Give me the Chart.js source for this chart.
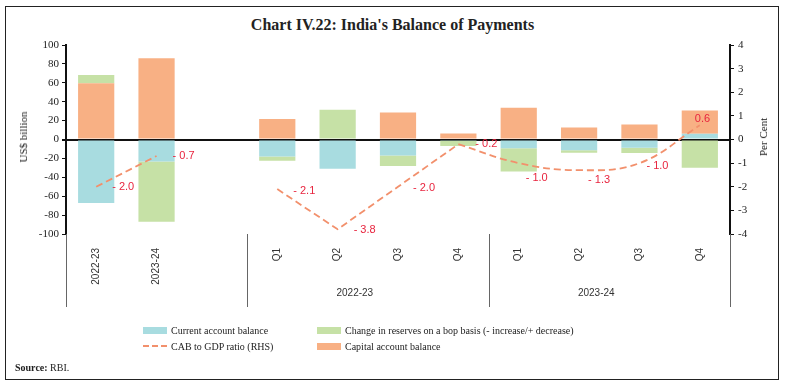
<!DOCTYPE html>
<html>
<head>
<meta charset="utf-8">
<title>India's Balance of Payments</title>
<script src="https://cdn.jsdelivr.net/npm/chart.js@4.4.1/dist/chart.umd.min.js"></script>
<style>
    body { margin: 0; background: #fff; }
    #wrap {
        position: relative; width: 785px; height: 387px;
        font-family: 'Liberation Serif', 'DejaVu Serif', serif; color: #222;
    }
    #frame {
        position: absolute; left: 5px; top: 6px; width: 772px; height: 372px;
        border: 1.5px solid #222;
    }
    #title {
        position: absolute; left: 0; top: 16px; width: 785px;
        text-align: center; font-size: 16px; font-weight: bold;
    }
    canvas { position: absolute; left: 0; top: 0; }
    .axis-title {
        position: absolute; font-size: 11px; white-space: nowrap;
        transform: translate(-50%, -50%) rotate(-90deg);
    }
    #legend {
        position: absolute; left: 143px; top: 323px;
        display: grid; grid-template-columns: 174px auto; row-gap: 2px;
        font-size: 10px;
    }
    .item { display: flex; align-items: center; height: 14px; }
    .swatch { width: 24px; height: 7px; margin-right: 4px; }
    #source { position: absolute; left: 15px; top: 362px; font-size: 10px; }
</style>
</head>
<body>
<div id="wrap">
    <div id="frame"></div>
    <div id="title">Chart IV.22: India's Balance of Payments</div>
    <canvas id="bopChart" width="785" height="387"></canvas>
    <div class="axis-title" style="left:23px; top:137px;">US$ billion</div>
    <div class="axis-title" style="left:763px; top:137px;">Per Cent</div>
    <div id="legend"></div>
    <div id="source"><b>Source:</b> RBI.</div>
</div>

<script>
/* ======================================================
   DATA (US$ billion, ratio in per cent)
====================================================== */
const categories = ['2022-23', '2023-24', '', 'Q1', 'Q2', 'Q3', 'Q4', 'Q1', 'Q2', 'Q3', 'Q4'];
const currentAccount = [-67.1, -23.2, null, -18.0, -31.0, -17.0, -1.3, -9.2, -11.3, -8.7, 6.0];
const capitalAccount = [59.4, 85.9, null, 21.6, 0, 28.6, 6.4, 33.6, 12.7, 15.9, 24.8];
const reserveChange = [8.8, -63.9, null, -4.6, 31.4, -11.0, -5.6, -24.6, -2.8, -5.5, -30.0];
const cabToGdp = [-2.0, -0.7, null, -2.1, -3.8, -2.0, -0.2, -1.0, -1.3, -1.0, 0.6];

const periodGroups = [
    { label: '2022-23', first: 3, last: 6 },
    { label: '2023-24', first: 7, last: 10 }
];

const COLORS = {
    cab: '#a8dce0',
    reserves: '#c6e1a6',
    capital: '#f8b084',
    ratio: '#f2906c',
    label: '#e8243e'
};

// the 2023-24 quarters are drawn smoothed, the rest straight
const CURVE_FROM = 6;
const ratioStraight = cabToGdp.map((v, i) => i <= CURVE_FROM ? v : null);
const ratioCurved = cabToGdp.map((v, i) => i >= CURVE_FROM ? v : null);

// label nudges (dx, dy) relative to each ratio point
const labelNudge = [[16, 0], [16, 0], null, [16, 2], [16, 1], [15, 1], [17, 0], [7, 15], [9, 10], [7, 3], [-5, -6]];

/* ======================================================
   PLUGINS
====================================================== */
const ratioLabels = {
    id: 'ratioLabels',
    afterDatasetsDraw(chart) {
        const { ctx, scales: { x, y1 } } = chart;
        ctx.save();
        ctx.font = '11px "Liberation Sans", sans-serif';
        ctx.fillStyle = COLORS.label;
        ctx.textAlign = 'left';
        ctx.textBaseline = 'middle';
        cabToGdp.forEach((v, i) => {
            if (v === null) return;
            const [dx, dy] = labelNudge[i] || [10, 0];
            const txt = v < 0 ? '- ' + Math.abs(v).toFixed(1) : v.toFixed(1);
            ctx.fillText(txt, x.getPixelForValue(i) + dx, y1.getPixelForValue(v) + dy);
        });
        ctx.restore();
    }
};

const periodAxis = {
    id: 'periodAxis',
    afterDraw(chart) {
        const { ctx, chartArea, scales: { x } } = chart;
        const top = chartArea.bottom;
        const bottom = top + 73;
        const half = (x.getPixelForValue(1) - x.getPixelForValue(0)) / 2;

        ctx.save();
        ctx.strokeStyle = '#666';
        ctx.lineWidth = 1;
        const seps = [chartArea.left, chartArea.right];
        periodGroups.forEach(g => seps.push(x.getPixelForValue(g.first) - half));
        seps.forEach(px => {
            ctx.beginPath();
            ctx.moveTo(Math.round(px) + 0.5, top);
            ctx.lineTo(Math.round(px) + 0.5, bottom);
            ctx.stroke();
        });

        ctx.font = '10px "Liberation Sans", sans-serif';
        ctx.fillStyle = '#333';
        ctx.textAlign = 'center';
        ctx.textBaseline = 'middle';
        periodGroups.forEach(g => {
            const mid = (x.getPixelForValue(g.first) + x.getPixelForValue(g.last)) / 2;
            ctx.fillText(g.label, mid - 13, top + 59);
        });
        ctx.restore();
    }
};

/* ======================================================
   CHART
====================================================== */
const chart = new Chart(document.getElementById('bopChart'), {
    type: 'bar',
    data: {
        labels: categories,
        datasets: [
            {
                label: 'Current account balance',
                data: currentAccount,
                backgroundColor: COLORS.cab,
                order: 1
            },
            {
                label: 'Capital account balance',
                data: capitalAccount,
                backgroundColor: COLORS.capital,
                order: 1
            },
            {
                label: 'Change in reserves on a bop basis (- increase/+ decrease)',
                data: reserveChange,
                backgroundColor: COLORS.reserves,
                order: 1
            },
            {
                type: 'line',
                label: 'CAB to GDP ratio (RHS)',
                data: ratioStraight,
                yAxisID: 'y1',
                borderColor: COLORS.ratio,
                borderWidth: 1.8,
                borderDash: [7, 4],
                pointRadius: 0,
                tension: 0,
                spanGaps: false,
                order: 0
            },
            {
                type: 'line',
                label: 'CAB to GDP ratio (RHS) smooth',
                data: ratioCurved,
                yAxisID: 'y1',
                borderColor: COLORS.ratio,
                borderWidth: 1.8,
                borderDash: [7, 4],
                pointRadius: 0,
                tension: 0.4,
                spanGaps: true,
                order: 0
            }
        ]
    },
    options: {
        responsive: false,
        animation: false,
        layout: { padding: { top: 45, bottom: 80, left: 0, right: 0 } },
        datasets: {
            bar: { barPercentage: 0.6, categoryPercentage: 1.0 }
        },
        plugins: {
            legend: { display: false },
            tooltip: { enabled: false }
        },
        scales: {
            x: {
                stacked: true,
                grid: { display: false, drawTicks: false },
                border: { display: false },
                ticks: {
                    autoSkip: false,
                    minRotation: 90,
                    maxRotation: 90,
                    padding: 14,
                    color: '#333',
                    font: { family: '"Liberation Sans", sans-serif', size: 10 }
                },
                afterFit: s => { s.height = 73; }
            },
            y: {
                stacked: true,
                min: -100,
                max: 100,
                ticks: {
                    stepSize: 20,
                    padding: 3,
                    color: '#222',
                    font: { family: '"Liberation Serif", serif', size: 11 }
                },
                grid: {
                    color: c => c.tick.value === 0 ? '#111' : 'rgba(0,0,0,0)',
                    lineWidth: c => c.tick.value === 0 ? 2 : 1,
                    tickColor: '#111',
                    tickLength: 4
                },
                border: { color: '#111', width: 2 },
                afterFit: s => { s.width = 66; }
            },
            y1: {
                position: 'right',
                min: -4,
                max: 4,
                ticks: {
                    stepSize: 1,
                    padding: 4,
                    color: '#222',
                    font: { family: '"Liberation Serif", serif', size: 11 }
                },
                grid: { drawOnChartArea: false, tickColor: '#111', tickLength: 4 },
                border: { color: '#111', width: 2 },
                afterFit: s => { s.width = 55; }
            }
        }
    },
    plugins: [ratioLabels, periodAxis]
});

/* ======================================================
   LEGEND (two columns, column order as printed)
====================================================== */
const legendOrder = [
    { text: 'Current account balance', color: COLORS.cab },
    { text: 'Change in reserves on a bop basis (- increase/+ decrease)', color: COLORS.reserves },
    { text: 'CAB to GDP ratio (RHS)', color: COLORS.ratio, dashed: true },
    { text: 'Capital account balance', color: COLORS.capital }
];

const legendBox = document.getElementById('legend');
legendOrder.forEach(it => {
    const sw = it.dashed
        ? `<span class="swatch" style="height:2px;background:repeating-linear-gradient(90deg, ${it.color} 0 6px, transparent 6px 9px)"></span>`
        : `<span class="swatch" style="background:${it.color}"></span>`;
    legendBox.innerHTML += `<div class="item">${sw}<span>${it.text}</span></div>`;
});
</script>
</body>
</html>
